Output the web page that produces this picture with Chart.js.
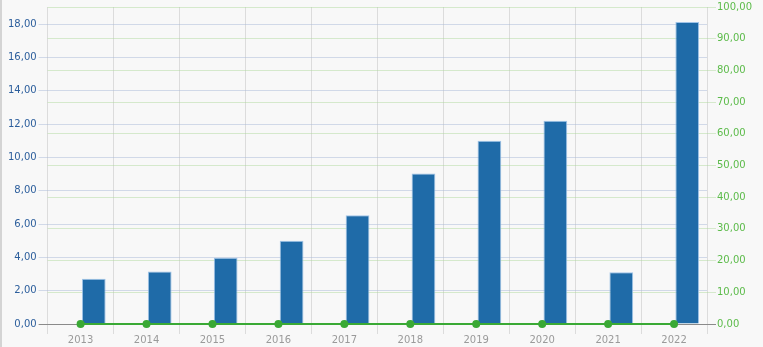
<!DOCTYPE html>
<html>
<head>
<meta charset="utf-8">
<script src="https://cdn.jsdelivr.net/npm/chart.js@4/dist/chart.umd.min.js"></script>
<style>
  html, body { margin: 0; padding: 0; background: #f8f8f8; }
  #wrap { position: relative; width: 763px; height: 347px; }
  #edge { position: absolute; left: 0; top: 0; width: 2px; height: 347px; background: #d4d4d4; }
</style>
</head>
<body>
<div id="wrap">
  <canvas id="c" width="763" height="347"></canvas>
  <div id="edge"></div>
</div>
<script>
const categories = ['2013', '2014', '2015', '2016', '2017', '2018', '2019', '2020', '2021', '2022'];
const spacerValues = [0, 0, 0, 0, 0, 0, 0, 0, 0, 0];
const barValues = [2.72, 3.15, 3.98, 5.0, 6.52, 9.03, 11.0, 12.2, 3.11, 18.12];
const lineValues = [0, 0, 0, 0, 0, 0, 0, 0, 0, 0];
const leftMax = 19.02;
const leftStep = 2;
const rightMax = 100;
const rightStep = 10;

const fmt = v => Number(v).toFixed(2).replace('.', ',');
const tickFont = { family: 'DejaVu Sans', size: 10 };
const yFont = { family: 'DejaVu Sans', size: 10, lineHeight: 1 };

new Chart(document.getElementById('c'), {
  type: 'bar',
  data: {
    labels: categories,
    datasets: [
      {
        label: 'spacer',
        data: spacerValues,
        backgroundColor: 'rgba(0,0,0,0)',
        borderWidth: 0,
        yAxisID: 'y',
        order: 2
      },
      {
        label: 'bars',
        data: barValues,
        backgroundColor: '#1f6ba8',
        borderColor: 'rgba(150,190,230,0.9)',
        borderWidth: 1,
        yAxisID: 'y',
        order: 2
      },
      {
        type: 'line',
        label: 'line',
        data: lineValues,
        borderColor: '#3aa935',
        backgroundColor: '#3aa935',
        borderWidth: 2,
        pointRadius: 3,
        pointHoverRadius: 3,
        clip: false,
        yAxisID: 'y1',
        order: 1
      }
    ]
  },
  options: {
    responsive: false,
    animation: false,
    layout: { padding: { left: 6, right: 10, top: 5, bottom: 1 } },
    plugins: { legend: { display: false }, tooltip: { enabled: false } },
    scales: {
      x: {
        grid: { color: '#dcdcdc', tickLength: 10, offset: true },
        border: { color: '#8a8a8a' },
        ticks: { color: '#9a9a9a', font: tickFont, padding: 0 }
      },
      y: {
        position: 'left',
        min: 0,
        max: leftMax,
        afterBuildTicks: axis => { axis.ticks = axis.ticks.filter(t => Math.abs(t.value / leftStep - Math.round(t.value / leftStep)) < 1e-6); },
        ticks: { stepSize: leftStep, color: '#2c5e9c', font: yFont, padding: 2, callback: v => fmt(v) },
        grid: { color: ctx => ctx.tick && ctx.tick.value === 0 ? '#8a8a8a' : 'rgba(170,185,215,0.5)', tickLength: 9 },
        border: { display: false }
      },
      y1: {
        position: 'right',
        min: 0,
        max: rightMax,
        ticks: { stepSize: rightStep, color: '#5cbb4a', font: yFont, padding: 1, callback: v => fmt(v) },
        grid: { color: ctx => ctx.tick && ctx.tick.value === 0 ? '#8a8a8a' : 'rgba(170,215,150,0.45)', tickLength: 9 },
        border: { display: false }
      }
    }
  }
});
</script>
</body>
</html>
